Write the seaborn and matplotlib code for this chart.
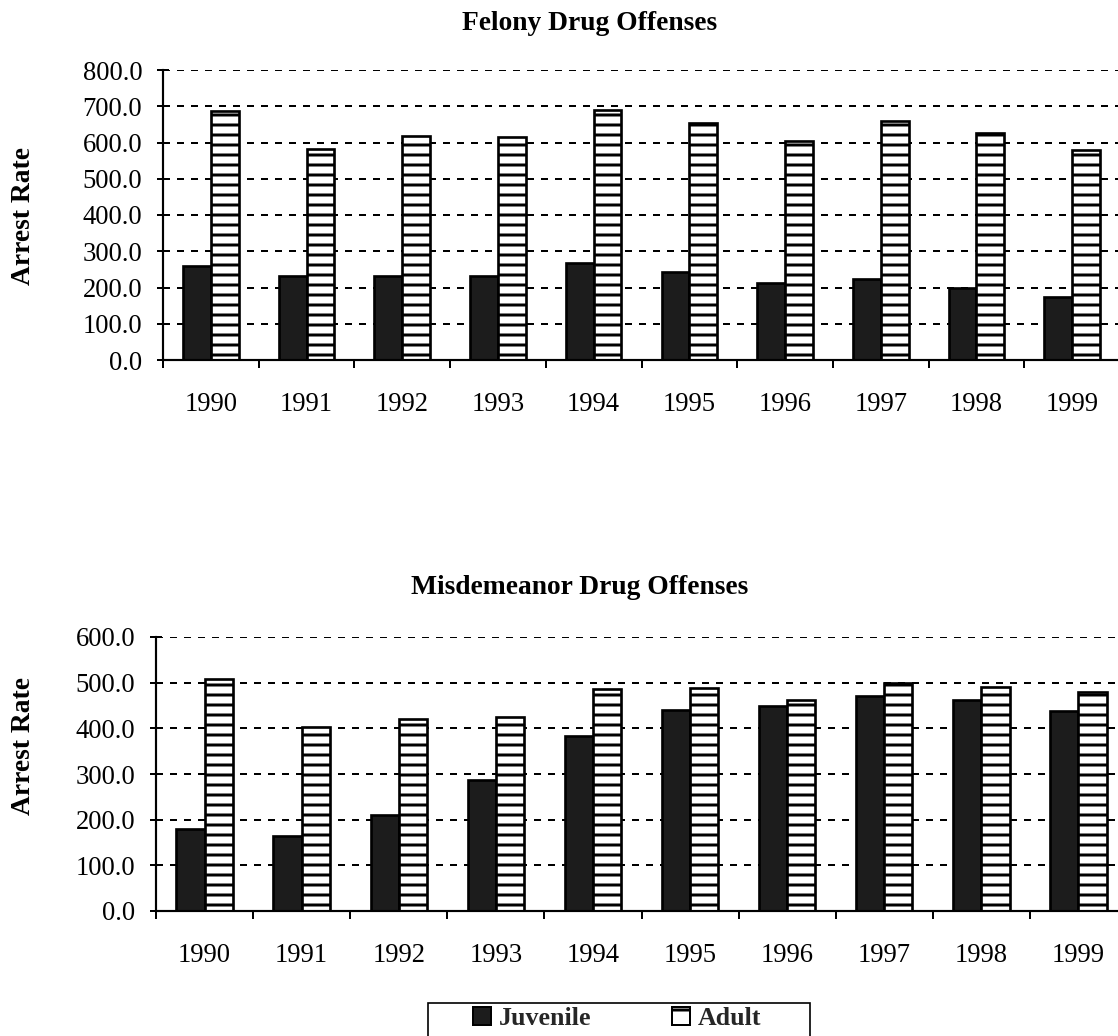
import matplotlib
matplotlib.use("Agg")
import matplotlib.pyplot as plt
import seaborn as sns
import pandas as pd
from matplotlib.patches import Rectangle, Patch
from matplotlib.ticker import FormatStrFormatter, MultipleLocator, FixedLocator

years = ["1990", "1991", "1992", "1993", "1994", "1995", "1996", "1997", "1998", "1999"]
groups = ["Juvenile", "Adult"]
felony_juvenile = [259, 232, 232, 232, 268, 244, 213, 223, 198, 173]
felony_adult = [688, 581, 618, 616, 690, 653, 604, 659, 627, 579]
misd_juvenile = [180, 164, 210, 286, 384, 441, 450, 471, 463, 439]
misd_adult = [508, 404, 420, 425, 486, 488, 463, 499, 490, 480]
titles = ["Felony Drug Offenses", "Misdemeanor Drug Offenses"]
ylabel = "Arrest Rate"

sns.set_style("white")
plt.rcParams["font.family"] = ["Liberation Serif", "DejaVu Serif"]
plt.rcParams["hatch.linewidth"] = 1.8
plt.rcParams["hatch.color"] = "black"

DPI = 120
W, H = 1118, 1036
fig = plt.figure(figsize=(W / DPI, H / DPI), dpi=DPI)


def make_df(juv, adu):
    return pd.DataFrame({
        "year": years * 2,
        "group": [groups[0]] * len(years) + [groups[1]] * len(years),
        "rate": list(juv) + list(adu),
    })


def px(x0, y_top, x1, y_bot):
    return [x0 / W, 1 - y_bot / H, (x1 - x0) / W, (y_bot - y_top) / H]


panels = [
    (make_df(felony_juvenile, felony_adult), px(163, 70, 1120, 360), 800),
    (make_df(misd_juvenile, misd_adult), px(156, 637, 1127, 911), 600),
]

axes = []
for df, pos, ymax in panels:
    ax = fig.add_axes(pos)
    sns.barplot(data=df, x="year", y="rate", hue="group", hue_order=groups,
                palette=["#1c1c1c", "white"], edgecolor="black", linewidth=1.6,
                width=0.58, gap=0, ax=ax, errorbar=None)
    for bar in ax.containers[1]:
        bar.set_hatch("--")
    ax.set_xlim(-0.5, len(years) - 0.5)
    ax.set_ylim(0, ymax)
    ax.yaxis.set_major_locator(MultipleLocator(100))
    ax.yaxis.set_major_formatter(FormatStrFormatter("%.1f"))
    ax.set_axisbelow(True)
    ax.yaxis.grid(True, color="black", linestyle=(0, (3.5, 3.5)), linewidth=1.2)
    ax.xaxis.grid(False)
    for s in ["top", "right"]:
        ax.spines[s].set_visible(False)
    for s in ["left", "bottom"]:
        ax.spines[s].set_color("black")
        ax.spines[s].set_linewidth(1.3)
    ax.set_xlabel("")
    ax.set_ylabel("")
    ax.tick_params(axis="y", direction="inout", length=7, width=1.2,
                   color="black", labelsize=16, pad=9, left=True)
    ax.tick_params(axis="x", which="major", length=0, labelsize=16, pad=19)
    ax.xaxis.set_minor_locator(FixedLocator([i - 0.5 for i in range(len(years) + 1)]))
    ax.tick_params(axis="x", which="minor", direction="out", length=4.5,
                   width=1.2, color="black", bottom=True)
    for lbl in ax.get_yticklabels() + ax.get_xticklabels():
        lbl.set_color("black")
    if ax.get_legend() is not None:
        ax.get_legend().remove()
    axes.append(ax)

fig.text(590 / W, 1 - 24 / H, titles[0], ha="center", va="center",
         fontsize=16.5, fontweight="bold", color="black")
fig.text(580 / W, 1 - 588 / H, titles[1], ha="center", va="center",
         fontsize=16.5, fontweight="bold", color="black")
fig.text(24 / W, 1 - 216 / H, ylabel, ha="center", va="center", rotation=90,
         fontsize=16.5, fontweight="bold", color="black")
fig.text(24 / W, 1 - 746 / H, ylabel, ha="center", va="center", rotation=90,
         fontsize=16.5, fontweight="bold", color="black")

leg_handles = [
    Patch(facecolor="#1c1c1c", edgecolor="black", linewidth=1.2),
    Patch(facecolor="white", edgecolor="black", linewidth=1.2, hatch="-"),
]
fig.legend(leg_handles, groups, loc="upper center",
           bbox_to_anchor=(617 / W, 1 - 994 / H), ncol=2, frameon=False,
           prop={"family": "Liberation Serif", "weight": "bold", "size": 15.5},
           handlelength=0.7, handleheight=0.7, columnspacing=3.1,
           handletextpad=0.3, borderpad=0.0)
fig.add_artist(Rectangle((428 / W, -0.02), (810 - 428) / W, (1036 - 1003) / H + 0.02,
                         transform=fig.transFigure, fill=False,
                         edgecolor="black", linewidth=1.0, clip_on=False))

fig.savefig("out.png", dpi=DPI, facecolor="white")
